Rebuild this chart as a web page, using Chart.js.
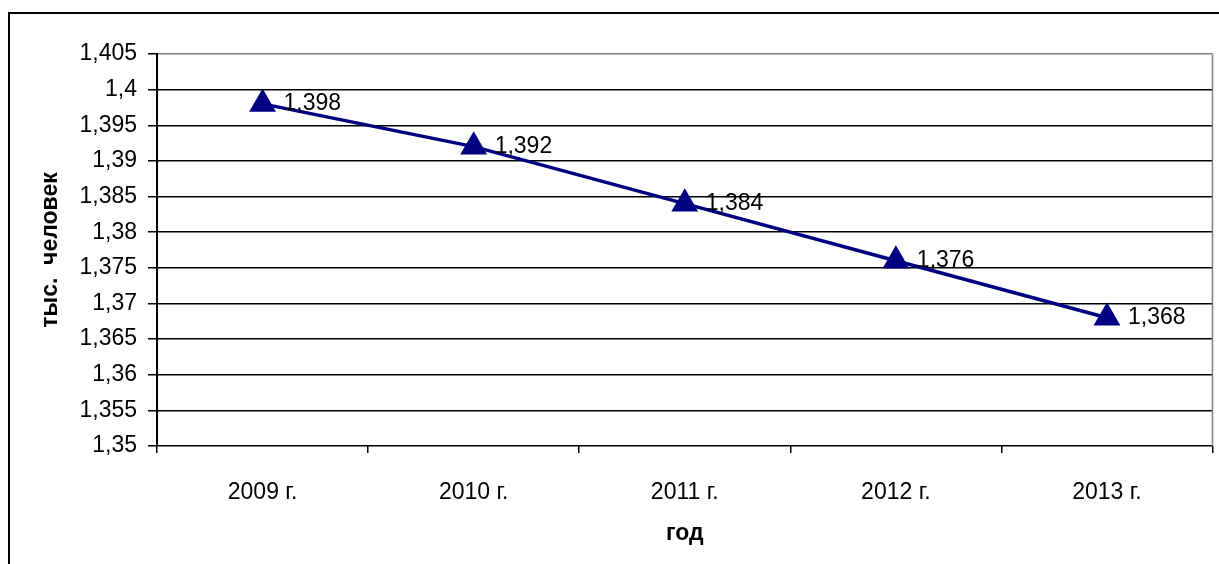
<!DOCTYPE html>
<html>
<head>
<meta charset="utf-8">
<script src="https://cdn.jsdelivr.net/npm/chart.js@4"></script>
<style>
  html, body { margin: 0; padding: 0; background: #fff; overflow: hidden; }
  #wrap { position: relative; width: 1219px; height: 564px; overflow: hidden; }
  #frame { position: absolute; left: 8px; top: 12px; width: 1300px; height: 700px; border: 2px solid #000; box-sizing: border-box; }
  #c { position: absolute; left: 0; top: 0; }
</style>
</head>
<body>
<div id="wrap">
  <div id="frame"></div>
  <canvas id="c" width="1228" height="564"></canvas>
</div>
<script>
const years = ["2009 г.", "2010 г.", "2011 г.", "2012 г.", "2013 г."];
const people = [1.398, 1.392, 1.384, 1.376, 1.368];
const yMin = 1.35;
const yMax = 1.405;
const yStep = 0.005;

const fmt = v => Number(v.toFixed(3)).toString().replace(".", ",");
const font = "'Liberation Sans', Arial, sans-serif";

// подписи значений справа от точек
const valueLabels = {
  id: "valueLabels",
  afterDatasetsDraw(chart) {
    const ctx = chart.ctx;
    const meta = chart.getDatasetMeta(0);
    ctx.save();
    ctx.font = "23px " + font;
    ctx.fillStyle = "#000";
    ctx.textAlign = "left";
    ctx.textBaseline = "middle";
    meta.data.forEach((pt, i) => {
      ctx.fillText(fmt(people[i]), pt.x + 21, pt.y);
    });
    ctx.restore();
  }
};

// серая рамка справа у области построения
const rightEdge = {
  id: "rightEdge",
  beforeDatasetsDraw(chart) {
    const a = chart.chartArea;
    const ctx = chart.ctx;
    ctx.save();
    ctx.strokeStyle = "#808080";
    ctx.lineWidth = 1.5;
    ctx.beginPath();
    ctx.moveTo(a.right, a.top);
    ctx.lineTo(a.right, a.bottom);
    ctx.stroke();
    ctx.restore();
  }
};

new Chart("c", {
  type: "line",
  data: {
    labels: years,
    datasets: [{
      data: people,
      borderColor: "#000080",
      backgroundColor: "#000080",
      borderWidth: 3.5,
      pointStyle: "triangle",
      pointRadius: 12,
      pointHoverRadius: 12,
      tension: 0
    }]
  },
  options: {
    responsive: false,
    animation: false,
    layout: { padding: { left: 0, top: 54, right: 0, bottom: 0 } },
    plugins: { legend: { display: false }, tooltip: { enabled: false } },
    scales: {
      x: {
        offset: true,
        afterFit: s => { s.height = 118; },
        grid: { offset: true, drawOnChartArea: false, drawTicks: true, tickLength: 7, color: "#000", lineWidth: 1.5 },
        border: { display: false },
        ticks: { color: "#000", font: { family: font, size: 23 }, padding: 26 },
        title: { display: true, text: "год", color: "#000", font: { family: font, size: 23, weight: "bold" }, padding: { top: 0, bottom: 17 } }
      },
      y: {
        min: yMin,
        max: yMax,
        afterFit: s => { s.width = 157; },
        afterBuildTicks: s => {
          s.ticks = [];
          for (let k = 0; k <= Math.round((yMax - yMin) / yStep); k++) s.ticks.push({ value: yMin + k * yStep });
        },
        grid: {
          color: c => (c.index === 11 ? "#808080" : "#000"),
          tickColor: "#000",
          lineWidth: 1.5,
          tickLength: 9,
          drawTicks: true
        },
        border: { display: true, color: "#000", width: 2 },
        ticks: { color: "#000", font: { family: font, size: 23 }, padding: 11, callback: v => fmt(v) },
        title: { display: true, text: "тыс.  человек", color: "#000", font: { family: font, size: 23, weight: "bold" }, padding: { top: 37, bottom: 0 } }
      }
    }
  },
  plugins: [valueLabels, rightEdge]
});
</script>
</body>
</html>
